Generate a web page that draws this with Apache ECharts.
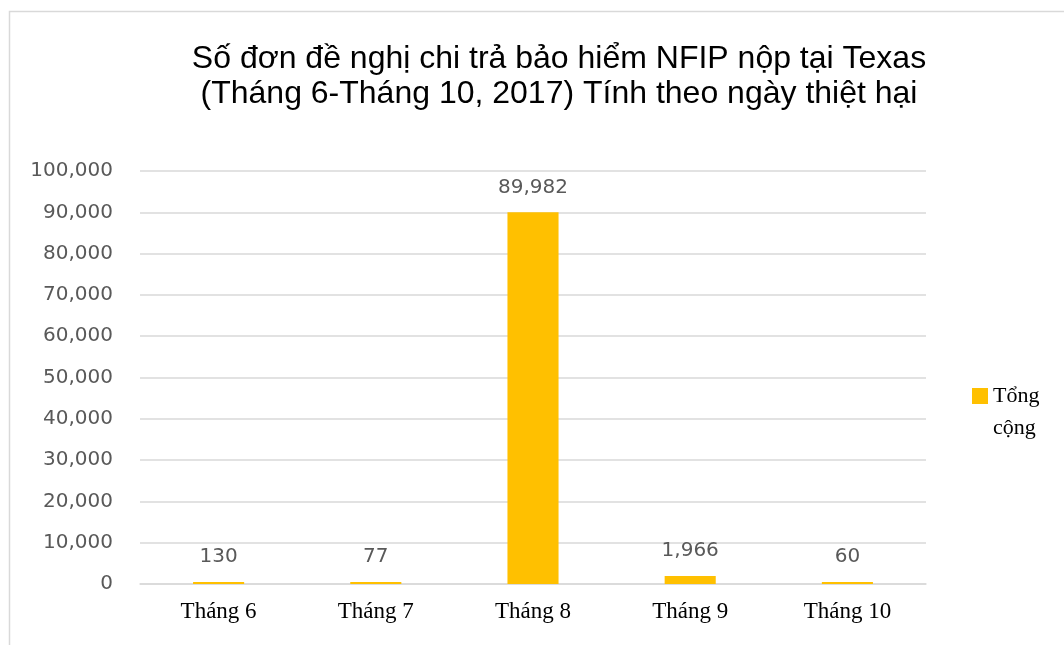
<!DOCTYPE html>
<html>
<head>
<meta charset="utf-8">
<script src="https://cdn.jsdelivr.net/npm/echarts@6/dist/echarts.min.js"></script>
<style>html,body{margin:0;padding:0;background:#fff}#c{width:1064px;height:645px}</style>
</head>
<body>
<div id="c"></div>
<script>
const categories = ['Tháng 6', 'Tháng 7', 'Tháng 8', 'Tháng 9', 'Tháng 10'];
const seriesName = 'Tổng cộng';
const values = [130, 77, 89982, 1966, 60];
const titleText = 'Số đơn đề nghị chi trả bảo hiểm NFIP nộp tại Texas\n(Tháng 6-Tháng 10, 2017) Tính theo ngày thiệt hại';

const fmt = v => String(v).replace(/\B(?=(\d{3})+(?!\d))/g, ',');

const chart = echarts.init(document.getElementById('c'), null, {renderer: 'canvas'});
chart.setOption({
  animation: false,
  backgroundColor: '#fff',
  graphic: [{
    type: 'rect', silent: true,
    shape: {x: 9.5, y: 11.5, width: 1200, height: 800},
    style: {fill: 'none', stroke: '#D9D9D9', lineWidth: 1.5}
  }],
  title: {
    text: titleText,
    left: 554, top: 37, textAlign: 'center',
    textStyle: {fontFamily: 'Liberation Sans', fontSize: 32, fontWeight: 'normal', color: '#000', lineHeight: 35}
  },
  legend: {
    left: 972, top: 348, orient: 'vertical', padding: 0,
    itemWidth: 16, itemHeight: 16,
    icon: 'rect',
    formatter: () => '\nTổng\ncộng',
    textStyle: {fontFamily: 'Liberation Serif', fontSize: 22, color: '#000', lineHeight: 32},
    data: [seriesName]
  },
  grid: {left: 140, right: 138, top: 171, bottom: 61, containLabel: false},
  xAxis: {
    type: 'category', data: categories,
    axisLine: {show: true, lineStyle: {color: '#D9D9D9', width: 1.5}},
    axisTick: {show: false},
    axisLabel: {fontFamily: 'Liberation Serif', fontSize: 23, color: '#000', margin: 16}
  },
  yAxis: {
    type: 'value', min: 0, max: 100000, interval: 10000,
    axisLine: {show: false}, axisTick: {show: false},
    splitLine: {lineStyle: {color: '#D9D9D9', width: 1.5}},
    axisLabel: {fontFamily: 'DejaVu Sans', fontSize: 20, color: '#595959', margin: 27, formatter: fmt}
  },
  series: [{
    name: seriesName, type: 'bar', data: values,
    barWidth: '32.5%', barMinHeight: 2,
    itemStyle: {color: '#FFC000'},
    label: {show: true, position: 'top', distance: 15, fontFamily: 'DejaVu Sans', fontSize: 20, color: '#595959',
      formatter: p => fmt(p.value)}
  }]
});
</script>
</body>
</html>
